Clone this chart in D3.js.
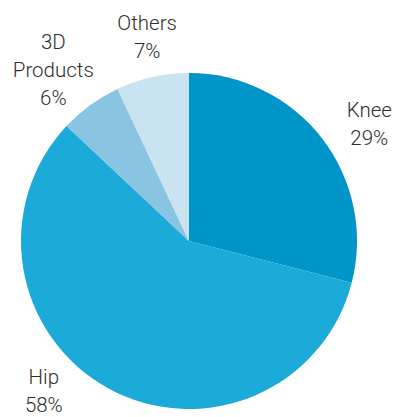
<!DOCTYPE html>
<html>
<head>
<meta charset="utf-8">
<script src="https://cdn.jsdelivr.net/npm/d3@7"></script>
<style>
  body { margin: 0; background: #fff; }
  text { font-family: Roboto, "Liberation Sans", sans-serif; font-weight: 300; }
</style>
</head>
<body>
<script>
    const categories = ["Knee", "Hip", "3D Products", "Others"];
    const shares = [29, 58, 6, 7];
    const labelLines = [["Knee", "29%"], ["Hip", "58%"], ["3D", "Products", "6%"], ["Others", "7%"]];
    const colors = ["#0095c9", "#1caad8", "#8ac4e3", "#c9e3f1"];

    const w = 397;
    const h = 417;
    const cx = 189, cy = 241, r = 168;

    // label placement: angle (deg, clockwise from top) and distance from centre
    const labelPlace = [[57, 215], [224, 209], [321.5, 218], [348.4, 208]];

    const svg = d3.select("body").append("svg")
        .attr("width", w)
        .attr("height", h);

    const g = svg.append("g").attr("transform", "translate(" + cx + "," + cy + ")");

    const pie = d3.pie().sort(null).value(d => d);
    const arc = d3.arc().innerRadius(0).outerRadius(r);

    const arcs = pie(shares);

    g.selectAll("path")
        .data(arcs)
        .enter()
        .append("path")
        .attr("d", arc)
        .attr("fill", (d, i) => colors[i]);

    const lineH = 28;

    g.selectAll("text.label")
        .data(arcs)
        .enter()
        .append("text")
        .attr("class", "label")
        .attr("text-anchor", "middle")
        .attr("font-size", 20.5)
        .attr("fill", "#2e2e2e")
        .each(function (d, i) {
            const a = labelPlace[i][0] * Math.PI / 180;
            const x = Math.sin(a) * labelPlace[i][1];
            const y = -Math.cos(a) * labelPlace[i][1];
            const lines = labelLines[i];
            const y0 = y - (lines.length - 1) * lineH / 2 + 7;
            d3.select(this).selectAll("tspan")
                .data(lines)
                .enter()
                .append("tspan")
                .attr("x", x)
                .attr("y", (t, j) => y0 + j * lineH)
                .text(t => t);
        });
</script>
</body>
</html>
